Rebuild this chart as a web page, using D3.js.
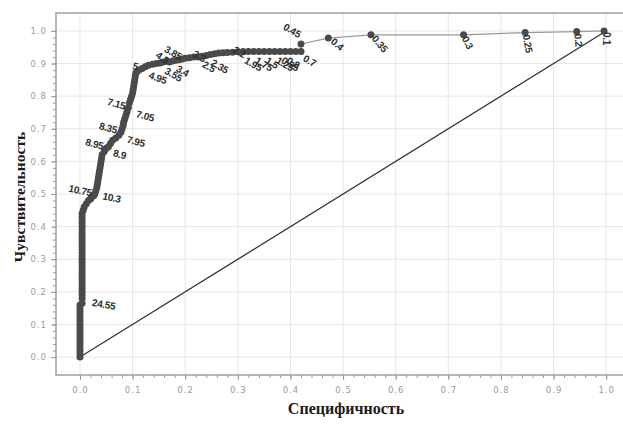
<!DOCTYPE html>
<html>
<head>
<meta charset="utf-8">
<script src="https://cdn.jsdelivr.net/npm/d3@7"></script>
<style>
  html, body { margin: 0; padding: 0; background: #fff; }
  svg { display: block; }
</style>
</head>
<body>
<svg id="chart" width="623" height="425"></svg>
<script>
// ---- DATA ----
const fpr = [
  0,0,0,0,0,0,0,0,0,0,0,0,0,0,0,0,0,
  0.004,0.004,0.004,0.004,0.004,0.004,0.004,0.004,0.004,0.004,0.004,0.004,0.004,0.004,
  0.004,0.004,0.004,0.004,0.004,0.004,0.004,0.004,0.004,0.004,0.004,0.004,0.004,0.004,
  0.006,0.008,0.012,0.016,0.020,0.022,0.026,0.028,0.030,0.032,0.033,0.034,0.035,0.036,
  0.037,0.038,0.039,0.040,0.041,0.042,0.046,0.050,0.054,0.058,0.062,0.068,0.074,0.078,
  0.080,0.082,0.083,0.085,0.087,0.089,0.090,0.092,0.094,0.096,0.098,0.100,0.101,0.102,
  0.103,0.104,0.105,0.106,0.108,0.112,0.118,0.124,0.130,0.138,0.145,0.152,0.158,0.164,
  0.170,0.176,0.182,0.188,0.194,0.200,0.208,0.216,0.224,0.232,0.240,0.248,0.256,0.264,
  0.272,0.280,0.290,0.300,0.310,0.320,0.330,0.340,0.350,0.360,0.370,0.380,0.390,0.400,
  0.410,0.420,0.420,0.472,0.553,0.729,0.846,0.944,0.996
];
const tpr = [
  0.00,0.01,0.02,0.03,0.04,0.05,0.06,0.07,0.08,0.09,0.10,0.11,0.12,0.13,0.14,0.15,0.16,
  0.165,0.18,0.19,0.20,0.21,0.22,0.23,0.24,0.25,0.26,0.27,0.28,0.29,0.30,
  0.31,0.32,0.33,0.34,0.35,0.36,0.37,0.38,0.39,0.40,0.41,0.42,0.43,0.44,
  0.45,0.46,0.47,0.48,0.485,0.49,0.495,0.50,0.51,0.52,0.53,0.54,0.55,0.56,
  0.57,0.58,0.59,0.60,0.61,0.62,0.63,0.64,0.645,0.655,0.665,0.672,0.68,0.69,
  0.70,0.71,0.72,0.73,0.74,0.75,0.76,0.765,0.78,0.79,0.80,0.81,0.82,0.83,
  0.84,0.85,0.86,0.87,0.875,0.88,0.885,0.89,0.895,0.898,0.90,0.902,0.905,0.907,
  0.905,0.908,0.91,0.912,0.914,0.916,0.918,0.92,0.92,0.922,0.925,0.928,0.93,0.932,
  0.933,0.934,0.935,0.936,0.937,0.937,0.937,0.937,0.937,0.937,0.937,0.937,0.937,0.937,
  0.937,0.937,0.96,0.978,0.988,0.988,0.995,0.998,1.0
];
// threshold labels: [index into the series, text]
const thresholdLabels = [
  [18, "24.55"], [52, "10.75"], [53, "10.3"], [66, "8.95"], [67, "8.9"],
  [71, "8.35"], [72, "7.95"], [79, "7.15"], [80, "7.05"], [92, "5"], [94, "4.95"],
  [99, "4.3"], [100, "3.85"], [101, "3.55"], [104, "3.4"], [109, "3.3"], [111, "2.5"],
  [113, "2.35"], [118, "2.2"], [120, "1.95"], [122, "1.75"], [124, "1.5"], [126, "1.25"],
  [127, "0.95"], [128, "0.8"], [130, "0.7"], [131, "0.45"], [132, "0.4"], [133, "0.35"],
  [134, "0.3"], [135, "0.25"], [136, "0.2"], [137, "0.1"]
];
const xTicks = [0, 0.1, 0.2, 0.3, 0.4, 0.5, 0.6, 0.7, 0.8, 0.9, 1.0];
const yTicks = [0, 0.1, 0.2, 0.3, 0.4, 0.5, 0.6, 0.7, 0.8, 0.9, 1.0];
const xTitle = "Специфичность";
const yTitle = "Чувствительность";

// ---- LABEL PLACEMENT (pixel offsets, rotation, anchor) ----
const labelPlace = {
  "24.55": [10, 4, 10, "start"],
  "10.75": [-3, -1, 12, "end"],
  "10.3": [7, 5, 12, "start"],
  "8.95": [-3, -2, 15, "end"],
  "8.9": [5, 6, 15, "start"],
  "8.35": [-2, -5, 15, "end"],
  "7.95": [6, 7, 15, "start"],
  "7.15": [-2, -3, 15, "end"],
  "7.05": [8, 6, 15, "start"],
  "5": [-1, -3, 15, "end"],
  "4.95": [4, 8, 20, "start"],
  "4.3": [-6, -8, 35, "start"],
  "3.85": [-1, -13, 30, "start"],
  "3.55": [-4, 8, 30, "start"],
  "3.4": [-2, 8, 30, "start"],
  "3.3": [-4, -4, 30, "start"],
  "2.5": [-3, 8, 30, "start"],
  "2.35": [-3, 8, 30, "start"],
  "2.2": [-4, -3, 30, "start"],
  "1.95": [-3, 8, 30, "start"],
  "1.75": [-3, 8, 30, "start"],
  "1.5": [-3, 8, 30, "start"],
  "1.25": [-3, 8, 30, "start"],
  "0.95": [-3, 8, 30, "start"],
  "0.8": [-3, 8, 30, "start"],
  "0.7": [3, 6, 30, "start"],
  "0.45": [-1, -9, 30, "end"],
  "0.4": [4, 2, 40, "start"],
  "0.35": [3, 2, 50, "start"],
  "0.3": [1, 2, 62, "start"],
  "0.25": [1, 2, 80, "start"],
  "0.2": [1, 2, 85, "start"],
  "0.1": [2, 1, 90, "start"]
};

const svg = d3.select("#chart");
const PL = 56, PT = 13, PR = 623, PB = 375;

const x = d3.scaleLinear().domain([-0.0456, 1.032]).range([PL, PR]);
const y = d3.scaleLinear().domain([-0.055, 1.055]).range([PB, PT]);

// grid
const grid = svg.append("g");
grid.selectAll("line.vg").data(xTicks).join("line")
  .attr("x1", d => x(d)).attr("x2", d => x(d))
  .attr("y1", PT).attr("y2", PB)
  .attr("stroke", "#e6e6e6").attr("stroke-width", 1);
grid.selectAll("line.hg").data(yTicks).join("line")
  .attr("x1", PL).attr("x2", PR)
  .attr("y1", d => y(d)).attr("y2", d => y(d))
  .attr("stroke", "#e6e6e6").attr("stroke-width", 1);

// frame (top, left, bottom)
svg.append("path")
  .attr("d", `M${PR},${PT}H${PL}V${PB}H${PR}`)
  .attr("fill", "none").attr("stroke", "#a0a0a0").attr("stroke-width", 1.5);

// axes
const minorTicks = d3.range(0, 51).map(i => i * 0.02).filter(v => v <= 1.0001);
const xAxisMinor = d3.axisBottom(x).tickValues(minorTicks).tickSize(3).tickFormat("");
const yAxisMinor = d3.axisLeft(y).tickValues(minorTicks).tickSize(3).tickFormat("");
const xAxis = d3.axisBottom(x).tickValues(xTicks).tickSize(5).tickPadding(7).tickFormat(d3.format(".1f"));
const yAxis = d3.axisLeft(y).tickValues(yTicks).tickSize(5).tickPadding(4).tickFormat(d3.format(".1f"));

function styleAxis(g) {
  g.select(".domain").remove();
  g.selectAll(".tick line").attr("stroke", "#999");
  g.selectAll(".tick text").attr("fill", "#9a9a9a")
    .style("font-family", "'DejaVu Sans', sans-serif").style("font-size", "8.5px")
    .style("letter-spacing", "1px");
}
svg.append("g").attr("transform", `translate(0,${PB})`).call(xAxisMinor).call(styleAxis);
svg.append("g").attr("transform", `translate(0,${PB})`).call(xAxis).call(styleAxis);
svg.append("g").attr("transform", `translate(${PL},0)`).call(yAxisMinor).call(styleAxis);
svg.append("g").attr("transform", `translate(${PL},0)`).call(yAxis).call(styleAxis);

// diagonal reference line
svg.append("line")
  .attr("x1", x(0)).attr("y1", y(0)).attr("x2", x(1)).attr("y2", y(1))
  .attr("stroke", "#333").attr("stroke-width", 1.3);

// ROC line
const pts = fpr.map((f, i) => [f, tpr[i]]);
svg.append("path")
  .datum(pts)
  .attr("fill", "none").attr("stroke", "#9a9a9a").attr("stroke-width", 1.2)
  .attr("d", d3.line().x(d => x(d[0])).y(d => y(d[1])));

// markers
svg.append("g").selectAll("circle").data(pts).join("circle")
  .attr("cx", d => x(d[0])).attr("cy", d => y(d[1]))
  .attr("r", 3.5).attr("fill", "#4a4a4a");

// threshold labels
svg.append("g").selectAll("text").data(thresholdLabels).join("text")
  .attr("transform", d => {
    const p = labelPlace[d[1]] || [4, 4, 20, "start"];
    return `translate(${x(fpr[d[0]]) + p[0]},${y(tpr[d[0]]) + p[1]}) rotate(${p[2]})`;
  })
  .attr("text-anchor", d => (labelPlace[d[1]] || [0,0,0,"start"])[3])
  .attr("dy", "0.35em")
  .attr("fill", "#2e2e2e")
  .style("font-family", "'Liberation Sans', Arial, sans-serif")
  .style("font-weight", "bold")
  .style("font-size", "10px")
  .style("letter-spacing", "-0.3px")
  .text(d => d[1]);

// axis titles
svg.append("text")
  .attr("x", 346).attr("y", 414)
  .attr("text-anchor", "middle")
  .style("font-family", "'Liberation Serif', 'Times New Roman', serif")
  .style("font-weight", "bold").style("font-size", "16px")
  .attr("fill", "#1a1a1a")
  .text(xTitle);
svg.append("text")
  .attr("transform", `translate(25,197) rotate(-90)`)
  .attr("text-anchor", "middle")
  .style("font-family", "'Liberation Serif', 'Times New Roman', serif")
  .style("font-weight", "bold").style("font-size", "15.5px")
  .attr("fill", "#1a1a1a")
  .text(yTitle);
</script>
</body>
</html>
